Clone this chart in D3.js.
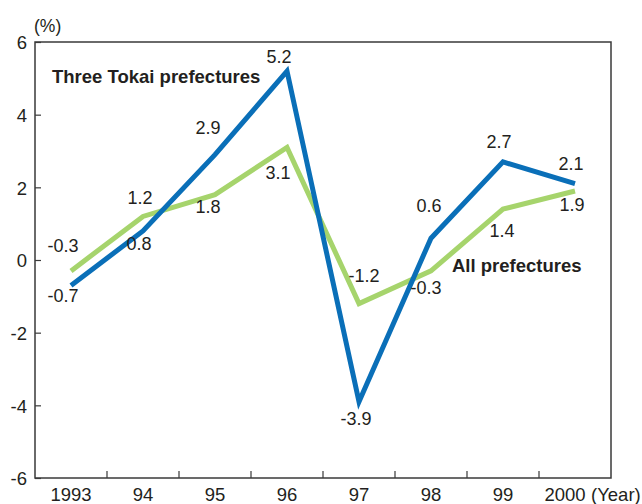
<!DOCTYPE html>
<html>
<head>
<meta charset="utf-8">
<script src="https://cdn.jsdelivr.net/npm/d3@7/dist/d3.min.js"></script>
<style>
  html, body { margin: 0; padding: 0; background: #fff; }
  svg { display: block; font-family: "Liberation Sans", Arial, sans-serif; }
</style>
</head>
<body>
<svg id="chart" width="642" height="504"></svg>
<script>
// Annual change (%), 1993–2000
const years = ["1993", "94", "95", "96", "97", "98", "99", "2000"];
const tokai = [-0.7, 0.8, 2.9, 5.2, -3.9, 0.6, 2.7, 2.1];
const allPref = [-0.3, 1.2, 1.8, 3.1, -1.2, -0.3, 1.4, 1.9];
const yTicks = [-6, -4, -2, 0, 2, 4, 6];

// Label offsets from each point: [dx, dy-to-baseline]
const tokaiLabelOffset = [[-8, 17], [-4, 19], [-7, -21], [-8, -8], [-3, 23], [-2, -26], [-4, -14], [-4, -14]];
const allLabelOffset   = [[-8, -19], [-3, -12], [-7, 18], [-9, 32], [5, -22], [-5, 23], [-1, 28], [-3, 20]];

const svg = d3.select("#chart");
const margin = { left: 35, top: 42, right: 31, bottom: 26 };
const W = 642, H = 504;
const x0 = margin.left, x1 = W - margin.right;
const y0 = margin.top, y1 = H - margin.bottom;

const x = d3.scaleBand().domain(years).range([x0, x1]).padding(0);
const y = d3.scaleLinear().domain([-6, 6]).range([y1, y0]);
const cx = d => x(d) + x.bandwidth() / 2;
const fmt = v => v.toFixed(1);

const textColor = "#231f20";
const blue = "#0a6fb8";
const green = "#a6d46c";

// Frame
svg.append("rect")
  .attr("x", x0).attr("y", y0)
  .attr("width", x1 - x0).attr("height", y1 - y0)
  .attr("fill", "none").attr("stroke", "#3a3a3a").attr("stroke-width", 1.5);

// Y axis: inward ticks, labels outside
const yAxis = d3.axisLeft(y).tickValues(yTicks).tickSize(-6).tickPadding(8).tickFormat(d => String(d));
const gy = svg.append("g").attr("transform", `translate(${x0},0)`).call(yAxis);
gy.select(".domain").remove();
gy.selectAll(".tick line").attr("stroke", "#3a3a3a").attr("stroke-width", 1.2);
gy.selectAll(".tick text").attr("fill", textColor).style("font-size", "18.5px")
  .attr("font-family", "Liberation Sans, Arial, sans-serif")
  .attr("dy", "0.36em");

// X axis: ticks at band boundaries pointing up
const gx = svg.append("g").attr("transform", `translate(0,${y1})`);
gx.selectAll("line.boundary")
  .data(years.slice(1))
  .join("line")
  .attr("class", "boundary")
  .attr("x1", d => x(d)).attr("x2", d => x(d))
  .attr("y1", 0).attr("y2", -7)
  .attr("stroke", "#3a3a3a").attr("stroke-width", 1.2);
gx.selectAll("text.year")
  .data(years)
  .join("text")
  .attr("class", "year")
  .attr("x", (d, i) => cx(d) - (i === years.length - 1 ? 10 : 0)).attr("y", 23)
  .attr("text-anchor", "middle")
  .attr("fill", textColor).style("font-size", "18.5px")
  .text(d => d);
svg.append("text")
  .attr("x", 591).attr("y", y1 + 23)
  .attr("fill", textColor).style("font-size", "18.5px")
  .text("(Year)");

// Unit label
svg.append("text")
  .attr("x", 34).attr("y", 32)
  .attr("fill", textColor).style("font-size", "17.5px")
  .text("(%)");

// Lines
const line = d3.line().x((d, i) => cx(years[i])).y(d => y(d));
function drawSeries(values, color) {
  svg.append("path")
    .datum(values)
    .attr("d", line)
    .attr("fill", "none")
    .attr("stroke", color)
    .attr("stroke-width", 5)
    .attr("stroke-linejoin", "miter")
    .attr("stroke-linecap", "butt");
}
drawSeries(allPref, green);
drawSeries(tokai, blue);

// Value labels
function drawLabels(values, offsets) {
  svg.append("g").selectAll("text")
    .data(values)
    .join("text")
    .attr("x", (d, i) => cx(years[i]) + offsets[i][0])
    .attr("y", (d, i) => y(d) + offsets[i][1])
    .attr("text-anchor", "middle")
    .attr("fill", textColor).style("font-size", "18px")
    .text(d => fmt(d));
}
drawLabels(tokai, tokaiLabelOffset);
drawLabels(allPref, allLabelOffset);

// Series names
svg.append("text")
  .attr("x", 52).attr("y", 83)
  .attr("fill", textColor).style("font-size", "18.5px").style("font-weight", "bold")
  .text("Three Tokai prefectures");
svg.append("text")
  .attr("x", 452).attr("y", 272)
  .attr("fill", textColor).style("font-size", "18.5px").style("font-weight", "bold")
  .text("All prefectures");
</script>
</body>
</html>
